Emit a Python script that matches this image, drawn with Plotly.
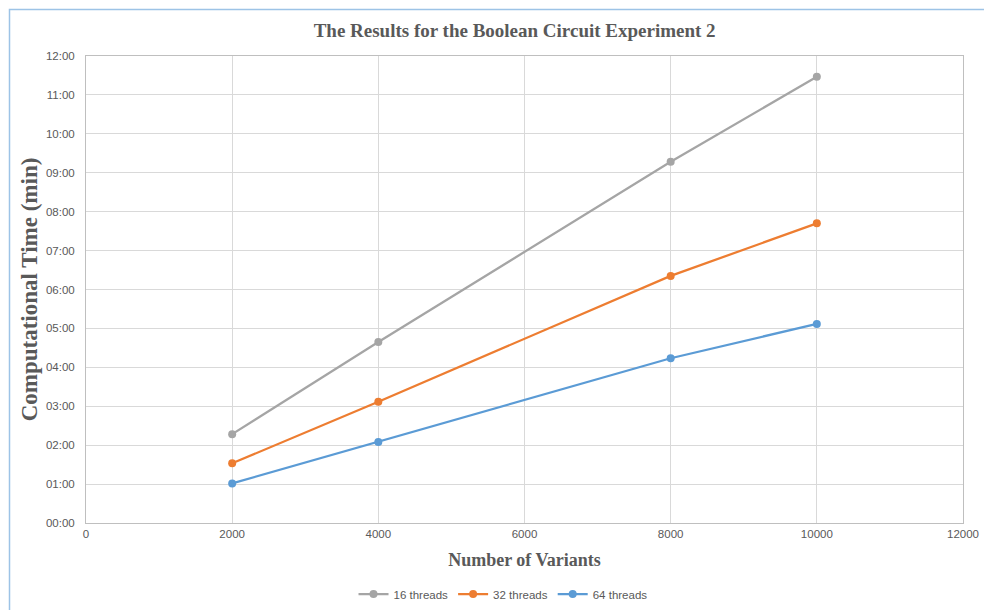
import plotly.graph_objects as go

# Number of variants on the x axis
variants = [2000, 4000, 8000, 10000]

# Computational time, written as mm:ss
time_16 = ["02:17", "04:39", "09:17", "11:28"]
time_32 = ["01:32", "03:07", "06:21", "07:42"]
time_64 = ["01:01", "02:05", "04:14", "05:07"]

series_names = ["16 threads", "32 threads", "64 threads"]
series_colors = ["#A5A5A5", "#ED7D31", "#5B9BD5"]

y_ticks = list(range(0, 13))
y_tick_text = [f"{m:02d}:00" for m in y_ticks]
x_ticks = [0, 2000, 4000, 6000, 8000, 10000, 12000]


def to_minutes(stamp):
    mm, ss = stamp.split(":")
    return int(mm) + int(ss) / 60.0


fig = go.Figure()
for name, color, values in zip(series_names, series_colors, [time_16, time_32, time_64]):
    fig.add_trace(go.Scatter(
        x=variants,
        y=[to_minutes(v) for v in values],
        mode="lines+markers",
        name=name,
        line=dict(color=color, width=2.25),
        marker=dict(color=color, size=8, line=dict(width=0)),
    ))

grey_text = "#595959"
grid = "#D9D9D9"

fig.update_layout(
    width=984, height=610,
    margin=dict(l=86, r=21, t=56, b=87, autoexpand=False),
    paper_bgcolor="white",
    plot_bgcolor="white",
    title=dict(
        text="<b>The Results for the Boolean Circuit Experiment 2</b>",
        x=0.523, xanchor="center", y=1 - 30 / 610, yanchor="middle",
        font=dict(family="Liberation Serif", size=19, color=grey_text),
    ),
    xaxis=dict(
        range=[0, 12000], tickvals=x_ticks, ticktext=[str(v) for v in x_ticks],
        showgrid=True, gridcolor=grid, gridwidth=1,
        showline=True, linecolor="#BFBFBF", linewidth=1, mirror=True,
        zeroline=False, ticks="", automargin=False,
        tickfont=dict(family="Liberation Sans", size=11.5, color=grey_text),
        title=dict(text="<b>Number of Variants</b>", standoff=14,
                   font=dict(family="Liberation Serif", size=18, color=grey_text)),
    ),
    yaxis=dict(
        range=[0, 12], tickvals=y_ticks, ticktext=y_tick_text,
        showgrid=True, gridcolor=grid, gridwidth=1,
        showline=True, linecolor="#BFBFBF", linewidth=1, mirror=True,
        zeroline=False, ticks="", ticklabelstandoff=8, automargin=False,
        tickfont=dict(family="Liberation Sans", size=11.5, color=grey_text),
        title=dict(text="<b>Computational Time (min)</b>", standoff=1,
                   font=dict(family="Liberation Serif", size=23, color=grey_text)),
    ),
    legend=dict(
        orientation="h", x=0.4755, xanchor="center",
        yref="container", y=1 - 594 / 610, yanchor="middle",
        font=dict(family="Liberation Sans", size=11.5, color=grey_text),
        itemwidth=30, tracegroupgap=0,
    ),
    showlegend=True,
)

# Outer chart frame
fig.add_shape(
    type="rect", xref="paper", yref="paper",
    x0=(9.5 - 86) / 877, x1=(995 - 86) / 877,
    y0=(523 - 625) / 467, y1=(523 - 9.5) / 467,
    line=dict(color="#9DC3E6", width=1.5), fillcolor="rgba(0,0,0,0)",
    layer="below",
)

fig.write_html("out.html")
